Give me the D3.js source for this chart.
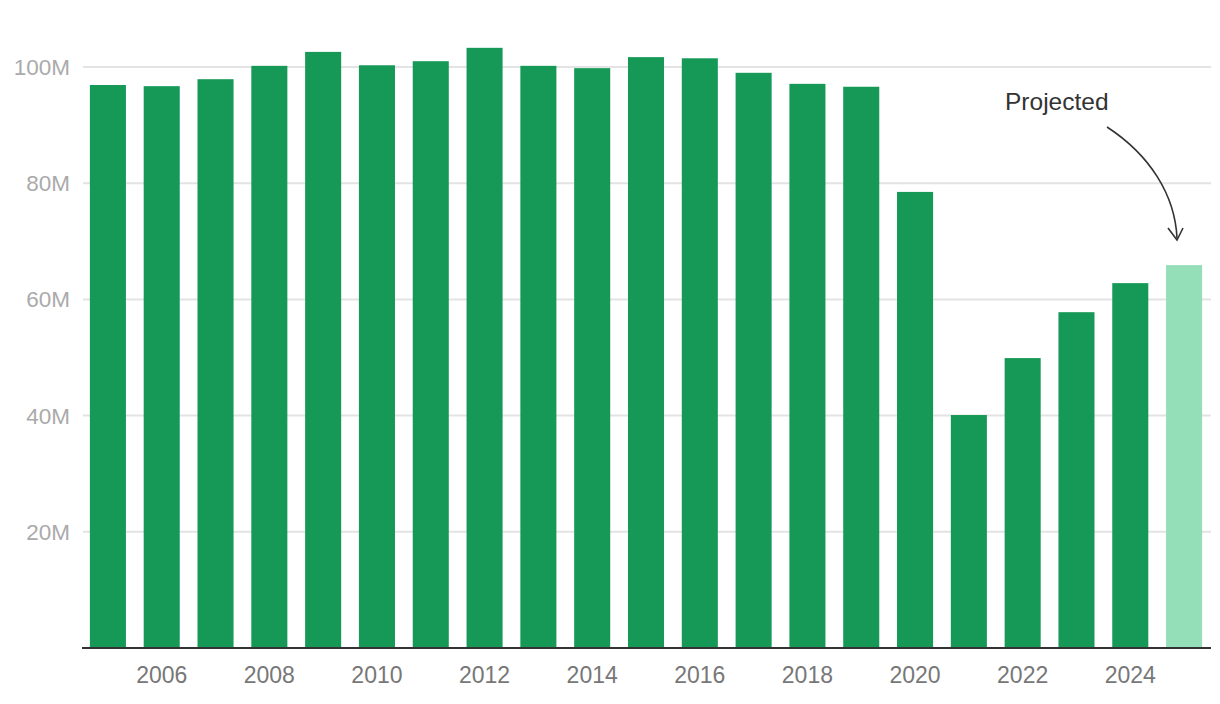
<!DOCTYPE html>
<html><head><meta charset="utf-8">
<script src="https://cdn.jsdelivr.net/npm/d3@7"></script>
<style>body{margin:0;background:#fff}svg{display:block}</style>
</head><body>
<svg id="chart" width="1220" height="704"></svg>
<script>
const years = [2005,2006,2007,2008,2009,2010,2011,2012,2013,2014,2015,2016,2017,2018,2019,2020,2021,2022,2023,2024,2025];
const values = [96.9,96.7,97.9,100.2,102.6,100.3,101.0,103.3,100.2,99.8,101.7,101.5,99.0,97.1,96.6,78.5,40.1,49.9,57.8,62.8,65.9];
const projected = [2025];
const yTicks = [20,40,60,80,100];
const xTickLabels = [2006,2008,2010,2012,2014,2016,2018,2020,2022,2024];

const svg = d3.select("#chart");
const font = "'Liberation Sans', Arial, sans-serif";
const x = d3.scaleBand().domain(years).range([81,1211]).paddingInner(0.33).paddingOuter(0.165);
const y = d3.scaleLinear().domain([0,100]).range([648,67]);

// gridlines
svg.append("g").selectAll("line").data(yTicks).join("line")
  .attr("x1",83).attr("x2",1211)
  .attr("y1",d=>y(d)).attr("y2",d=>y(d))
  .attr("stroke","#e3e3e3").attr("stroke-width",2);

svg.append("g").selectAll("text").data(yTicks).join("text")
  .attr("x",70).attr("y",d=>y(d)+8).attr("text-anchor","end")
  .attr("font-family",font).attr("font-size",22.5).attr("fill","#aaa")
  .text(d=>d+"M");

svg.append("g").selectAll("rect").data(years).join("rect")
  .attr("x",d=>x(d)).attr("width",x.bandwidth())
  .attr("y",(d,i)=>y(values[i])).attr("height",(d,i)=>y(0)-y(values[i]))
  .attr("fill",d=>projected.includes(d)?"#94dfb8":"#169957");

svg.append("line").attr("x1",82).attr("x2",1211).attr("y1",648).attr("y2",648)
  .attr("stroke","#333").attr("stroke-width",2);

svg.append("g").selectAll("text").data(xTickLabels).join("text")
  .attr("x",d=>x(d)+x.bandwidth()/2).attr("y",683).attr("text-anchor","middle")
  .attr("font-family",font).attr("font-size",23).attr("fill","#777")
  .text(d=>d);

// annotation
svg.append("text").attr("x",1005).attr("y",110)
  .attr("font-family",font).attr("font-size",24.5).attr("fill","#333").text("Projected");
svg.append("path").attr("d","M1107,127 C1150,155 1175,195 1177,238")
  .attr("fill","none").attr("stroke","#333").attr("stroke-width",1.6);
svg.append("path").attr("d","M1168,228 L1177,240 L1183,228")
  .attr("fill","none").attr("stroke","#333").attr("stroke-width",1.6);
</script>
</body></html>
